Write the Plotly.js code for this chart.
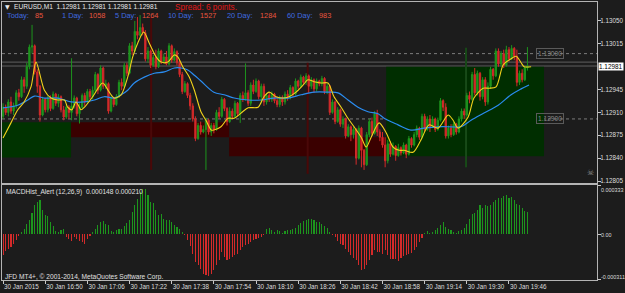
<!DOCTYPE html>
<html>
<head>
<meta charset="utf-8">
<script src="https://cdn.plot.ly/plotly-3.0.1.min.js"></script>
<style>
html,body{margin:0;padding:0;background:#1c1c1c;}
#chart{width:625px;height:293px;}
</style>
</head>
<body>
<div id="chart"></div>
<script>
// ---------- DATA ----------
const firstOpen = 1.12904;
const closes = [
1.12918,1.12910,1.12926,1.12912,1.12920,1.12940,1.12934,1.12960,1.12950,1.12980,
1.13010,1.13012,1.12972,1.12950,1.12906,1.12930,1.12914,1.12932,1.12916,1.12938,
1.12924,1.12934,1.12914,1.12903,1.12918,1.12910,1.12920,1.12932,1.12908,1.12918,
1.12936,1.12926,1.12942,1.12934,1.12944,1.12968,1.12944,1.12978,1.12950,1.12954,
1.12912,1.12932,1.12922,1.12934,1.12956,1.12950,1.12982,1.12970,1.13012,1.13004,
1.13034,1.13028,1.13040,1.13032,1.12992,1.13004,1.12982,1.12994,1.12980,1.13004,
1.12988,1.12995,1.12984,1.13012,1.12990,1.13003,1.12986,1.12968,1.12942,1.12954,
1.12936,1.12920,1.12900,1.12870,1.12890,1.12880,1.12884,1.12898,1.12880,1.12890,
1.12884,1.12910,1.12904,1.12930,1.12916,1.12896,1.12912,1.12904,1.12924,1.12908,
1.12936,1.12930,1.12940,1.12924,1.12952,1.12942,1.12958,1.12934,1.12950,1.12926,
1.12936,1.12930,1.12938,1.12928,1.12922,1.12932,1.12926,1.12938,1.12934,1.12948,
1.12938,1.12958,1.12950,1.12964,1.12956,1.12966,1.12950,1.12960,1.12946,1.12958,
1.12954,1.12962,1.12942,1.12950,1.12910,1.12926,1.12896,1.12914,1.12892,1.12900,
1.12874,1.12888,1.12876,1.12884,1.12840,1.12886,1.12852,1.12830,1.12876,1.12896,
1.12878,1.12908,1.12880,1.12872,1.12860,1.12836,1.12862,1.12846,1.12858,1.12844,
1.12856,1.12848,1.12860,1.12846,1.12870,1.12860,1.12876,1.12886,1.12872,1.12904,
1.12884,1.12900,1.12888,1.12900,1.12884,1.12898,1.12928,1.12918,1.12874,1.12886,
1.12876,1.12892,1.12880,1.12900,1.12912,1.12906,1.12936,1.12930,1.12968,1.12940,
1.12970,1.12934,1.12960,1.12926,1.12950,1.12976,1.12966,1.13004,1.12984,1.13000,
1.12982,1.13006,1.12992,1.13008,1.12996,1.12956,1.12970,1.12960,1.12978,1.12981
];
const highs = [
1.12924,1.12922,1.12930,1.12934,1.12925,1.12944,1.12946,1.12965,1.12964,1.12986,
1.13014,1.13044,1.13014,1.12976,1.12952,1.12934,1.12932,1.12936,1.12936,1.12942,
1.12940,1.12938,1.12936,1.12920,1.12922,1.12921,1.12993,1.12936,1.12934,1.12924,
1.12939,1.12940,1.12946,1.12946,1.12950,1.12972,1.12970,1.12982,1.12980,1.12960,
1.12956,1.12936,1.12934,1.12938,1.12960,1.12962,1.12986,1.12986,1.13016,1.13018,
1.13050,1.13056,1.13059,1.13046,1.13036,1.13010,1.13006,1.12998,1.13006,1.13008,
1.13006,1.13000,1.13004,1.13016,1.13014,1.13008,1.13005,1.12990,1.12972,1.12958,
1.12956,1.12940,1.12924,1.12904,1.12894,1.12896,1.12890,1.12902,1.12900,1.12894,
1.12894,1.12914,1.12918,1.12934,1.12932,1.12918,1.12918,1.12916,1.12928,1.12926,
1.12940,1.12942,1.12985,1.12944,1.12956,1.12960,1.12962,1.12960,1.12954,1.12954,
1.12940,1.12940,1.12942,1.12940,1.12934,1.12936,1.12936,1.12942,1.12944,1.12952,
1.12950,1.12962,1.12960,1.12968,1.12966,1.12970,1.12968,1.12964,1.12962,1.12962,
1.12960,1.12966,1.12964,1.12954,1.12952,1.12930,1.12928,1.12918,1.12916,1.12904,
1.12902,1.12892,1.12890,1.12888,1.12886,1.12890,1.12888,1.12854,1.12880,1.12900,
1.12902,1.12912,1.12914,1.12884,1.12880,1.12872,1.12868,1.12866,1.12864,1.12860,
1.12862,1.12858,1.12864,1.12862,1.12874,1.12872,1.12880,1.12890,1.12888,1.12908,
1.12908,1.12904,1.12906,1.12904,1.12902,1.12902,1.12932,1.12930,1.12924,1.12890,
1.12892,1.12896,1.12894,1.12904,1.12916,1.12916,1.12940,1.12942,1.12972,1.12978,
1.12974,1.12972,1.12964,1.12964,1.12956,1.12980,1.12978,1.13008,1.13008,1.13004,
1.13006,1.13012,1.13010,1.13013,1.13010,1.13006,1.12974,1.12976,1.12982,1.13010
];
const lows = [
1.12900,1.12906,1.12904,1.12908,1.12906,1.12916,1.12928,1.12932,1.12940,1.12946,
1.12976,1.13000,1.12968,1.12940,1.12896,1.12904,1.12910,1.12910,1.12912,1.12914,
1.12920,1.12918,1.12910,1.12898,1.12900,1.12900,1.12898,1.12916,1.12904,1.12893,
1.12916,1.12920,1.12924,1.12930,1.12930,1.12940,1.12938,1.12942,1.12946,1.12946,
1.12908,1.12910,1.12918,1.12920,1.12932,1.12944,1.12948,1.12966,1.12968,1.12998,
1.13002,1.13022,1.13026,1.13028,1.12988,1.12986,1.12978,1.12980,1.12976,1.12978,
1.12984,1.12986,1.12982,1.12982,1.12986,1.12988,1.12982,1.12964,1.12938,1.12940,
1.12932,1.12914,1.12896,1.12866,1.12868,1.12876,1.12878,1.12822,1.12876,1.12874,
1.12878,1.12882,1.12900,1.12902,1.12912,1.12890,1.12894,1.12900,1.12902,1.12904,
1.12894,1.12926,1.12928,1.12920,1.12920,1.12938,1.12940,1.12930,1.12924,1.12920,
1.12922,1.12926,1.12926,1.12924,1.12918,1.12918,1.12920,1.12922,1.12928,1.12930,
1.12934,1.12936,1.12946,1.12948,1.12952,1.12952,1.12940,1.12946,1.12940,1.12942,
1.12950,1.12950,1.12938,1.12938,1.12906,1.12908,1.12892,1.12894,1.12888,1.12886,
1.12870,1.12872,1.12866,1.12870,1.12830,1.12838,1.12826,1.12822,1.12828,1.12872,
1.12874,1.12876,1.12874,1.12866,1.12856,1.12826,1.12832,1.12842,1.12844,1.12836,
1.12842,1.12844,1.12846,1.12840,1.12844,1.12856,1.12858,1.12872,1.12868,1.12870,
1.12880,1.12882,1.12880,1.12886,1.12880,1.12882,1.12896,1.12912,1.12870,1.12870,
1.12872,1.12874,1.12876,1.12878,1.12896,1.12900,1.12904,1.12924,1.12928,1.12936,
1.12936,1.12928,1.12930,1.12920,1.12922,1.12946,1.12960,1.12964,1.12980,1.12980,
1.12978,1.12980,1.12988,1.12990,1.12990,1.12950,1.12952,1.12956,1.12958,1.12974
];
// fast average (yellow), sampled at bar positions
const fastBars = [0,3,5.6,8,10.6,12.5,15.7,18.2,20.8,23.3,24.5,26.1,27.7,29.6,30.9,34,37.8,40.3,42.2,44.8,47.3,49.2,51.1,53.4,55.5,58.1,60,62.5,65,66.3,68.2,70.7,72.6,75.1,77,79,80,82.7,85.4,87.7,90.3,93,96.8,99,101,103.6,106.3,108.5,111.2,113.9,115.7,118,120.7,123.3,125.6,128.3,130.9,133.2,135.9,137.8,139.7,142.7,145.4,148,150.3,152.2,155.6,158.6,161.7,165.1,168.9,170.8,172.7,176.5,178.7,182.2,184.4,187.1,189.8,192,194.7,196.6,197.7,200.4];
const fastVals = [1.12871,1.12894,1.12914,1.12926,1.12949,1.12987,1.12944,1.12932,1.12929,1.12929,1.12918,1.12914,1.12926,1.12914,1.12918,1.12934,1.12955,1.12941,1.12932,1.12937,1.12964,1.12995,1.13016,1.13033,1.13016,1.12995,1.12987,1.12987,1.12998,1.12995,1.12980,1.12964,1.12944,1.12911,1.12898,1.12883,1.12883,1.12888,1.12901,1.12901,1.12909,1.12917,1.12918,1.12934,1.12941,1.12934,1.12932,1.12934,1.12941,1.12952,1.12960,1.12957,1.12955,1.12955,1.12934,1.12918,1.12901,1.12888,1.12872,1.12857,1.12872,1.12894,1.12879,1.12857,1.12852,1.12852,1.12849,1.12868,1.12891,1.12886,1.12906,1.12898,1.12886,1.12903,1.12932,1.12947,1.12947,1.12949,1.12983,1.12990,1.12996,1.12986,1.12980,1.12980];
// slow average (blue)
const slowBars = [0,5.6,9.4,11.9,15.7,20.8,25.8,30.9,34.7,38.4,42.2,44.8,47.3,49.8,53.6,57.4,61.2,65,67.6,70.1,72.6,75.1,80,83.9,87.7,93,97.9,102.8,108.2,113.1,118,123.3,127.1,130.9,134.7,138.5,142.3,144.6,149.9,154.8,159.8,165.1,170,173.8,177.6,182.5,187.9,192.8,196.6,199.6];
const slowVals = [1.12917,1.12921,1.12929,1.12935,1.12932,1.12932,1.12926,1.12926,1.12929,1.12934,1.12932,1.12937,1.12944,1.12955,1.12964,1.12970,1.12972,1.12978,1.12978,1.12975,1.12967,1.12958,1.12941,1.12937,1.12932,1.12929,1.12929,1.12932,1.12932,1.12937,1.12941,1.12941,1.12940,1.12929,1.12918,1.12911,1.12908,1.12901,1.12891,1.12883,1.12886,1.12888,1.12888,1.12888,1.12898,1.12909,1.12921,1.12937,1.12946,1.12952];
// MACD histogram
const macdHist = [
-0.000142,-0.000115,-0.000102,-0.000088,-0.000068,-0.000041,-0.000014,
0.000014,0.000034,0.000068,0.000095,0.000142,0.000197,0.000217,0.000231,0.000163,0.000129,0.000122,0.000081,0.000054,0.000020,0.000014,0.000027,0.000034,
-0.000020,-0.000034,-0.000047,-0.000020,-0.000034,-0.000047,-0.000054,-0.000068,-0.000034,-0.000014,
0.000014,0.000034,0.000061,0.000081,0.000088,0.000068,0.000061,0.000020,0.000014,0.000027,0.000034,0.000034,0.000054,0.000075,0.000095,0.000149,0.000197,0.000237,0.000285,0.000305,0.000305,0.000264,0.000217,0.000210,0.000163,0.000129,0.000136,0.000102,0.000095,0.000095,0.000081,0.000061,0.000047,0.000034,0.000014,
-0.000007,-0.000041,-0.000081,-0.000136,-0.000190,-0.000210,-0.000237,-0.000271,-0.000278,-0.000285,-0.000271,-0.000244,-0.000210,-0.000176,-0.000122,-0.000156,-0.000176,-0.000170,-0.000156,-0.000142,-0.000136,-0.000108,-0.000088,-0.000075,-0.000068,-0.000054,-0.000041,-0.000034,-0.000027,-0.000020,-0.000007,
0.000034,0.000041,0.000027,0.000014,0.000027,0.000020,0.000007,0.000020,0.000027,0.000027,0.000034,0.000041,0.000061,0.000075,0.000088,0.000095,0.000102,0.000102,0.000095,0.000081,0.000081,0.000068,0.000054,0.000041,0.000014,
-0.000007,-0.000020,-0.000047,-0.000068,-0.000075,-0.000102,-0.000122,-0.000142,-0.000163,-0.000176,-0.000210,-0.000244,-0.000237,-0.000210,-0.000176,-0.000142,-0.000108,-0.000122,-0.000122,-0.000136,-0.000108,-0.000142,-0.000170,-0.000170,-0.000170,
-0.000183,-0.000163,-0.000149,-0.000142,-0.000136,-0.000129,-0.000108,-0.000088,-0.000054,-0.000027,
0.000007,0.000020,0.000007,0.000014,0.000027,0.000041,0.000061,0.000081,0.000047,0.000034,0.000027,0.000014,0.000007,0.000020,0.000027,0.000041,0.000068,0.000102,0.000136,0.000142,0.000163,0.000197,0.000176,0.000197,0.000190,0.000197,0.000217,0.000231,0.000244,0.000244,0.000258,0.000264,0.000244,0.000251,0.000231,0.000203,0.000197,0.000176,0.000156,0.000148
];
// time axis labels
const timeTickBars = [0,16,32,48,64,80,96,112,128,144,160,176,192];
const timeTickText = ["30 Jan 2015","30 Jan 16:50","30 Jan 17:06","30 Jan 17:22","30 Jan 17:38","30 Jan 17:54","30 Jan 18:10","30 Jan 18:26","30 Jan 18:42","30 Jan 18:58","30 Jan 19:14","30 Jan 19:30","30 Jan 19:46"];
const priceTicks = [1.12805,1.12840,1.12875,1.12910,1.12945,1.13015,1.13050];
const macdTicks = [0.000333,0,-0.000311];
const macdTickText = ["0.000333","0.00","-0.000311"];
// session boxes
const boxStart = [-1, 25.8, 85.8, 145.4];
const boxEnd = [25.8, 85.8, 145.4, 205.3];
const boxLow = [1.12841, 1.12872, 1.12843, 1.12843];
const boxHigh = [1.12895, 1.12895, 1.12872, 1.12980];
const boxColor = ["#003300", "#3a0000", "#3a0000", "#002e00"];
// vertical markers
const vBar = [56.2, 115.6, 175.7];
const vLow = [1.12822, 1.12816, 1.12826];
const vHigh = [1.13056, 1.12986, 1.13009];
const vColor = ["#4a0808", "#4a0808", "#174a17"];
// horizontal levels
const levelPrices = [1.13000, 1.12900];
const levelText = ["1.13000", "1.12900"];
const bidPrice = 1.12981, askPrice = 1.12987;
const statLabels = ["Today:","1 Day:","5 Day:","10 Day:","20 Day:","60 Day:"];
const statValues = ["85","1058","1264","1527","1284","983"];

// ---------- BUILD ----------
const bars = closes.map((_, i) => i);
const opens = [firstOpen].concat(closes.slice(0, -1));
const GREEN = "#1d951d", RED = "#d42a2a";

const W = 625, H = 293, ML = 2, MR = 28, MT = 2, MB = 13;
const pw = W - ML - MR, ph = H - MT - MB;
const px = x => (x - ML) / pw;
const py = y => (H - MB - y) / ph;
const FONT = "Liberation Sans, Arial, sans-serif";

const data = [
  {type:"scatter", mode:"lines", x:slowBars, y:slowVals, xaxis:"x", yaxis:"y",
   line:{color:"#2a8cf0", width:1.2, shape:"spline"}, hoverinfo:"skip"},
  {type:"candlestick", x:bars, open:opens, high:highs, low:lows, close:closes,
   xaxis:"x", yaxis:"y", whiskerwidth:0,
   increasing:{line:{color:GREEN, width:1}, fillcolor:GREEN},
   decreasing:{line:{color:RED, width:1}, fillcolor:RED}, hoverinfo:"skip"},
  {type:"scatter", mode:"lines", x:fastBars, y:fastVals, xaxis:"x", yaxis:"y",
   line:{color:"#f2d21b", width:1.1, shape:"spline", smoothing:0.8}, hoverinfo:"skip"},
  {type:"bar", x:bars, y:macdHist, xaxis:"x2", yaxis:"y2", width:0.42,
   marker:{color:macdHist.map(v => v >= 0 ? GREEN : RED), line:{width:0}}, hoverinfo:"skip"}
];

const shapes = [];
boxStart.forEach((s, i) => shapes.push({type:"rect", xref:"x", yref:"y", x0:s, x1:boxEnd[i],
  y0:boxLow[i], y1:boxHigh[i], fillcolor:boxColor[i], line:{width:0}, layer:"below"}));
vBar.forEach((b, i) => shapes.push({type:"line", xref:"x", yref:"y", x0:b, x1:b,
  y0:vLow[i], y1:vHigh[i], line:{color:vColor[i], width:2}, layer:"below"}));
levelPrices.forEach(p => shapes.push({type:"line", xref:"paper", yref:"y", x0:0, x1:1,
  y0:p, y1:p, line:{color:"#7c7c7c", width:1, dash:"3px,3px"}, layer:"below"}));
[bidPrice, askPrice].forEach(p => shapes.push({type:"line", xref:"paper", yref:"y", x0:0, x1:1,
  y0:p, y1:p, line:{color:"#606060", width:1}, layer:"below"}));

const ann = [];
const txt = (text, x, y, size, color, family) => ann.push({text, xref:"paper", yref:"paper",
  x:px(x), y:py(y), xanchor:"left", yanchor:"middle", showarrow:false,
  font:{family:family || FONT, size, color}});
txt("▼", 3, 6, 6, "#e8e8e8", "DejaVu Sans");
txt("EURUSD,M1  1.12981 1.12981 1.12981 1.12981", 12, 6, 6.6, "#e8e8e8");
txt("Spread: 6 points.", 173, 7, 8.2, "#e01818");
const statX = [5, 60, 113, 166, 225, 285], statVX = [33, 87, 140, 198, 258, 317];
statLabels.forEach((l, i) => {
  txt(l, statX[i], 15, 7.4, "#3f6be0");
  txt(statValues[i], statVX[i], 15, 7.4, "#e8553f");
});
txt("MACDHist_Alert (12,26,9)  0.000148 0.000210", 4, 192, 6.6, "#e0e0e0");
txt("JFD MT4+, © 2001-2014, MetaQuotes Software Corp.", 3, 277, 6.6, "#e0e0e0");
// MACD scale labels (placed inside the window edges like the terminal does)
const macdLabelY = [190, 235, 277];
macdTickText.forEach((t, i) => txt(t, 598.5, macdLabelY[i], 5.4, "#dcdcdc"));
levelPrices.forEach((p, i) => ann.push({text:levelText[i], xref:"paper", yref:"y", x:px(549.5), y:p,
  xanchor:"center", yanchor:"middle", showarrow:false, bordercolor:"#5a5a5a", borderwidth:1, borderpad:1,
  font:{family:FONT, size:6.6, color:"#8a8a8a"}}));
ann.push({text:"1.12981", xref:"paper", yref:"y", x:px(598), y:bidPrice, xanchor:"left", yanchor:"middle",
  showarrow:false, bgcolor:"#ffffff", borderpad:0, font:{family:FONT, size:6.4, color:"#000000"}});
txt("☠", 585, 172, 8, "#8a8a8a", "DejaVu Sans");

const axBase = {showgrid:false, zeroline:false, showline:true, mirror:true, linecolor:"#b4b4b4", linewidth:1};
const layout = {
  width:W, height:H, margin:{l:ML, r:MR, t:MT, b:MB, pad:0},
  paper_bgcolor:"#1c1c1c", plot_bgcolor:"#1c1c1c", showlegend:false,
  font:{family:FONT, color:"#dcdcdc"},
  xaxis:Object.assign({}, axBase, {domain:[0,1], anchor:"y", range:[-0.4, 225.4], showticklabels:false,
    ticks:"", rangeslider:{visible:false}, fixedrange:true}),
  yaxis:Object.assign({}, axBase, {domain:[0.349,1], anchor:"x", side:"right", range:[1.12802, 1.13079],
    tickvals:priceTicks, ticktext:priceTicks.map(v => v.toFixed(5)), ticks:"outside", ticklen:3,
    tickcolor:"#c8c8c8", ticklabelstandoff:-2, tickfont:{family:FONT, size:6.3, color:"#dcdcdc"}}),
  xaxis2:Object.assign({}, axBase, {domain:[0,1], anchor:"y2", matches:"x", tickvals:timeTickBars,
    ticktext:timeTickText, ticks:"outside", ticklen:3, tickcolor:"#c8c8c8", ticklabelposition:"outside right",
    tickfont:{family:FONT, size:6.3, color:"#dcdcdc"}, tickangle:0}),
  yaxis2:Object.assign({}, axBase, {domain:[0,0.3417], anchor:"x2", side:"right", range:[-0.000311, 0.000333],
    tickvals:macdTicks, showticklabels:false, ticks:"outside", ticklen:3, tickcolor:"#c8c8c8"}),
  bargap:0, shapes, annotations:ann
};
Plotly.newPlot("chart", data, layout, {staticPlot:true, displayModeBar:false});
</script>
</body>
</html>
